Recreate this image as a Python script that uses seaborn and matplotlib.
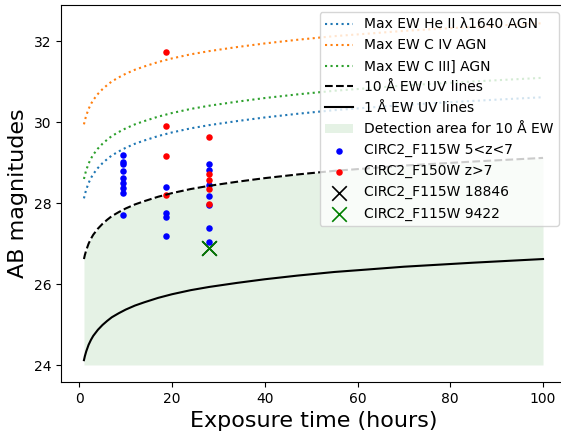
import matplotlib
matplotlib.use("Agg")
import matplotlib.pyplot as plt
import seaborn as sns

# Exposure-time grid (hours) and limiting magnitudes
t_hours = [1, 1.1, 1.2, 1.35, 1.5, 1.75, 2, 2.5, 3, 4, 5, 6, 7, 8.5, 10, 12, 14, 17,
           20, 24, 28, 34, 40, 47, 55, 62, 70, 85, 100]
mag_heii = [28.12, 28.17, 28.22, 28.28, 28.34, 28.42, 28.50, 28.62, 28.72, 28.87,
            28.99, 29.09, 29.18, 29.28, 29.37, 29.47, 29.55, 29.66, 29.75, 29.85,
            29.93, 30.03, 30.12, 30.21, 30.30, 30.36, 30.43, 30.53, 30.62]
mag_civ = [29.95, 30.00, 30.05, 30.11, 30.17, 30.25, 30.33, 30.45, 30.55, 30.70,
           30.82, 30.92, 31.01, 31.11, 31.20, 31.30, 31.38, 31.49, 31.58, 31.68,
           31.76, 31.86, 31.95, 32.04, 32.13, 32.19, 32.26, 32.36, 32.45]
mag_ciii = [28.60, 28.65, 28.70, 28.76, 28.82, 28.90, 28.98, 29.10, 29.20, 29.35,
            29.47, 29.57, 29.66, 29.76, 29.85, 29.95, 30.03, 30.14, 30.23, 30.33,
            30.41, 30.51, 30.60, 30.69, 30.78, 30.84, 30.91, 31.01, 31.10]
mag_10A = [26.62, 26.67, 26.72, 26.78, 26.84, 26.92, 27.00, 27.12, 27.22, 27.37,
           27.49, 27.59, 27.68, 27.78, 27.87, 27.97, 28.05, 28.16, 28.25, 28.35,
           28.43, 28.53, 28.62, 28.71, 28.80, 28.86, 28.93, 29.03, 29.12]
mag_1A = [24.12, 24.17, 24.22, 24.28, 24.34, 24.42, 24.50, 24.62, 24.72, 24.87,
          24.99, 25.09, 25.18, 25.28, 25.37, 25.47, 25.55, 25.66, 25.75, 25.85,
          25.93, 26.03, 26.12, 26.21, 26.30, 26.36, 26.43, 26.53, 26.62]
fill_floor = 24.0

# Sources
blue_t = [9.33] * 9 + [18.67] * 4 + [28] * 7
blue_m = [29.19, 29.02, 28.98, 28.80, 28.63, 28.49, 28.38, 28.26, 27.72,
          28.40, 27.75, 27.67, 27.20,
          28.97, 28.82, 28.45, 28.17, 27.96, 27.39, 27.03]
red_t = [18.67] * 4 + [28] * 5
red_m = [31.74, 29.91, 29.17, 28.21,
         29.64, 28.73, 28.57, 28.34, 27.99]
obj_18846 = (28, 26.89)
obj_9422 = (28, 26.89)

fig = plt.figure(figsize=(5.61, 4.33), dpi=100)
ax = fig.add_axes([61 / 561, 1 - 382 / 433, 505 / 561, 377 / 433])

sns.lineplot(x=t_hours, y=mag_heii, ax=ax, color="C0", linestyle=":", lw=1.5,
             label="Max EW He II λ1640 AGN")
sns.lineplot(x=t_hours, y=mag_civ, ax=ax, color="C1", linestyle=":", lw=1.5,
             label="Max EW C IV AGN")
sns.lineplot(x=t_hours, y=mag_ciii, ax=ax, color="C2", linestyle=":", lw=1.5,
             label="Max EW C III] AGN")
sns.lineplot(x=t_hours, y=mag_10A, ax=ax, color="black", linestyle="--", lw=1.5,
             label="10 Å EW UV lines")
sns.lineplot(x=t_hours, y=mag_1A, ax=ax, color="black", linestyle="-", lw=1.5,
             label="1 Å EW UV lines")
ax.fill_between(t_hours, fill_floor, mag_10A, color="green", alpha=0.1, lw=0,
                label="Detection area for 10 Å EW")
sns.scatterplot(x=blue_t, y=blue_m, ax=ax, color="blue", s=22, linewidth=0,
                label="CIRC2_F115W 5<z<7")
sns.scatterplot(x=red_t, y=red_m, ax=ax, color="red", s=22, linewidth=0,
                label="CIRC2_F150W z>7")
sns.scatterplot(x=[obj_18846[0]], y=[obj_18846[1]], ax=ax, color="black", marker="x",
                s=110, linewidth=1.2, label="CIRC2_F115W 18846")
sns.scatterplot(x=[obj_9422[0]], y=[obj_9422[1]], ax=ax, color="green", marker="x",
                s=110, linewidth=1.2, label="CIRC2_F115W 9422")

ax.set_xlim(-3.95, 104.95)
ax.set_ylim(23.58, 32.9)
ax.set_xticks([0, 20, 40, 60, 80, 100])
ax.set_yticks([24, 26, 28, 30, 32])
ax.tick_params(labelsize=10)
ax.set_xlabel("Exposure time (hours)", fontsize=16)
ax.set_ylabel("AB magnitudes", fontsize=16)
ax.legend(loc="upper right", fontsize=10)

fig.savefig("out.png", dpi=100)
